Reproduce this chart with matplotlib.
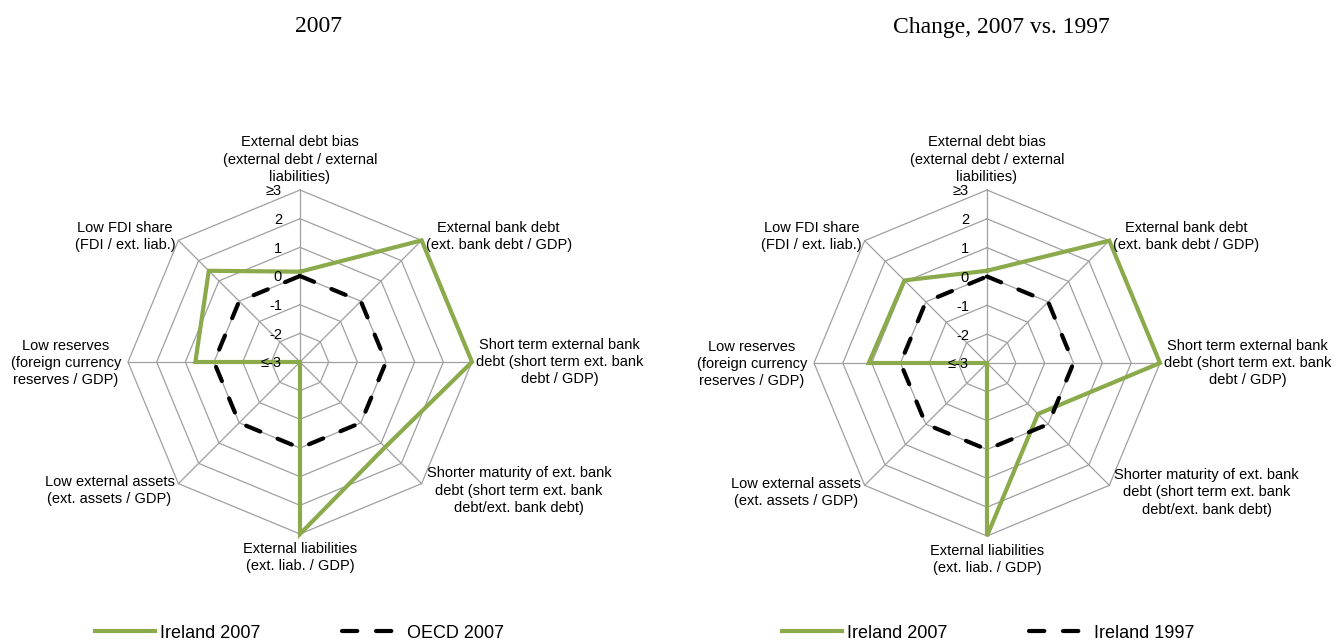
import numpy as np
import matplotlib
matplotlib.use("Agg")
import matplotlib.pyplot as plt
from matplotlib.lines import Line2D

# categories, clockwise from the top
categories = [
    "External debt bias\n(external debt / external\nliabilities)",
    "External bank debt\n(ext. bank debt / GDP)",
    "Short term external bank\ndebt (short term ext. bank\ndebt / GDP)",
    "Shorter maturity of ext. bank\ndebt (short term ext. bank\ndebt/ext. bank debt)",
    "External liabilities\n(ext. liab. / GDP)",
    "Low external assets\n(ext. assets / GDP)",
    "Low reserves\n(foreign currency\nreserves / GDP)",
    "Low FDI share\n(FDI / ext. liab.)",
]

scale_values = [-3, -2, -1, 0, 1, 2, 3]
scale_labels = ["\u2264-3", "-2", "-1", "0", "1", "2", "\u22653"]

# left panel: 2007
ireland_2007 = [0.15, 3.0, 3.0, 1.2, 3.0, -3.0, 0.65, 1.5]
oecd_2007 = [0.0, 0.0, 0.0, 0.0, 0.0, 0.0, 0.0, 0.0]

# right panel: change 2007 vs 1997
ireland_2007_chg = [0.2, 3.0, 3.0, -0.5, 3.0, -3.0, 1.1, 1.05]
ireland_1997_chg = [0.0, 0.0, 0.0, 0.0, 0.0, 0.0, 0.0, 0.0]

GREEN = "#8AAA4B"
GRID = "#A0A0A0"
FONT = ["Liberation Sans", "DejaVu Sans"]

# label placement (offset in px, ha, va) for each spoke
label_pos = [
    ((0, 6), "center", "bottom"),
    ((4, 4), "left", "center"),
    ((4, 0), "left", "center"),
    ((5, -7), "left", "center"),
    ((0, -8), "center", "top"),
    ((-4, -7), "right", "center"),
    ((-7, -1), "right", "center"),
    ((-3, 4), "right", "center"),
]

DASH = (0, (11.0 / 3.0, 13.5 / 3.0))


def RadarChart(fig, rect, title, title_x, s1, s2, name1, name2, legend_x):
    ax = fig.add_axes(rect, projection="polar")
    ax.set_theta_zero_location("N")
    ax.set_theta_direction(-1)
    ax.grid(False)
    ax.set_xticks([])
    ax.set_yticks([])
    ax.spines["polar"].set_visible(False)
    ax.patch.set_visible(False)
    ax.set_autoscale_on(False)
    ax.set_ylim(scale_values[0], scale_values[-1])

    n = len(categories)
    angles = np.linspace(0, 2 * np.pi, n, endpoint=False)
    closed = np.append(angles, angles[0])

    # octagonal grid
    for v in scale_values[1:]:
        ax.plot(closed, [v] * (n + 1), color=GRID, lw=0.9, clip_on=False, zorder=1)
    for a in angles:
        ax.plot([a, a], [scale_values[0], scale_values[-1]], color=GRID, lw=0.9,
                clip_on=False, zorder=1)

    ax.plot(closed, s1 + s1[:1], color=GREEN, lw=3, clip_on=False, zorder=3,
            solid_joinstyle="miter")
    ax.plot(closed, s2 + s2[:1], color="black", lw=3, linestyle=DASH,
            dash_capstyle="round", clip_on=False, zorder=4)

    for v, lbl in zip(scale_values, scale_labels):
        ax.annotate(lbl, xy=(0, v), xytext=(-13, -1), textcoords="offset points",
                    ha="right", va="center", fontsize=10.5, family=FONT,
                    annotation_clip=False)

    for a, lbl, (off, ha, va) in zip(angles, categories, label_pos):
        ax.annotate(lbl, xy=(a, scale_values[-1]),
                    xytext=(off[0] * 0.72, off[1] * 0.72), textcoords="offset points",
                    ha=ha, va=va, multialignment="center", fontsize=10.5,
                    family=FONT, linespacing=1.3, annotation_clip=False)

    fig.text(title_x, 1 - 27 / 641, title, ha="center", va="center",
             fontsize=17, family=["Liberation Serif", "DejaVu Serif"])

    handles = [
        Line2D([], [], color=GREEN, lw=3),
        Line2D([], [], color="black", lw=3, linestyle=DASH, dash_capstyle="round"),
    ]
    fig.legend(handles, [name1, name2], loc="center left",
               bbox_to_anchor=(legend_x, 1 - 633 / 641), ncol=2, frameon=False,
               borderpad=0, borderaxespad=0, handlelength=3.3, handletextpad=0.3,
               columnspacing=4.5, prop={"family": FONT, "size": 13})
    return ax


def main():
    W, H = 1335, 641
    fig = plt.figure(figsize=(W / 100, H / 100), dpi=100)

    R = 172
    cx, cy = 300, 362
    RadarChart(fig, [(cx - R) / W, (H - cy - R) / H, 2 * R / W, 2 * R / H],
               "2007", 319 / W, ireland_2007, oecd_2007,
               "Ireland 2007", "OECD 2007", 95 / W)

    R = 173
    cx, cy = 987, 363
    RadarChart(fig, [(cx - R) / W, (H - cy - R) / H, 2 * R / W, 2 * R / H],
               "Change, 2007 vs. 1997", 1001 / W, ireland_2007_chg, ireland_1997_chg,
               "Ireland 2007", "Ireland 1997", 782 / W)

    fig.savefig("out.png", dpi=100)


if __name__ == "__main__":
    main()
